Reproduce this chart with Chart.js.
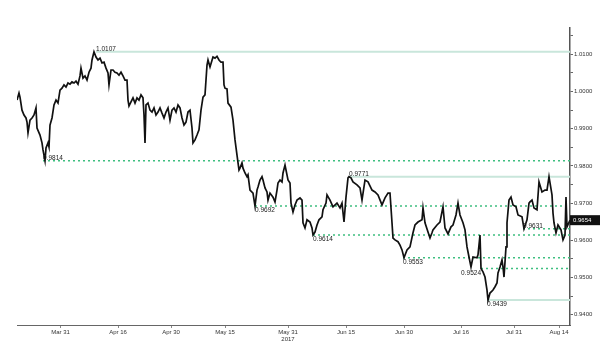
<!DOCTYPE html>
<html>
<head>
<meta charset="utf-8">
<title>Price chart 2017</title>
<script src="https://cdn.jsdelivr.net/npm/chart.js@4/dist/chart.umd.min.js"></script>
<style>
  html, body { margin: 0; padding: 0; background: #fff; }
  #wrap { width: 600px; height: 353px; }
</style>
</head>
<body>
<div id="wrap"><canvas id="priceChart" width="600" height="353"></canvas></div>
<script>
// ── Data ────────────────────────────────────────────────────────
// session index (time) and closing price
const times = [0,2,3,5,7,9,10,11,13,15,17,19,20,23,25,26,28,29,31,32,33,35,37,39,41,43,45,47,49,51,53,55,57,59,61,63,64,66,68,70,72,74,75,77,79,81,83,85,87,89,91,92,94,96,98,100,102,104,106,108,110,111,112,114,116,118,120,122,124,126,127,128,129,131,133,135,137,139,141,143,145,147,149,151,153,155,157,159,161,163,165,167,169,171,173,175,176,178,180,182,184,186,188,190,191,193,196,198,200,202,204,206,207,208,210,211,214,216,218,220,222,223,225,226,228,230,231,233,236,238,240,241,243,245,246,248,250,251,253,256,258,260,261,263,265,266,268,271,273,274,276,278,280,283,285,286,288,290,293,295,296,298,300,302,305,306,309,310,313,316,320,323,325,327,329,331,332,334,336,340,343,345,348,351,355,358,361,365,368,371,373,375,376,378,381,383,385,387,390,393,396,398,401,405,406,408,411,413,415,416,420,423,426,428,431,434,436,439,441,443,446,448,450,452,454,456,460,461,463,464,466,468,470,471,473,476,478,480,481,483,485,486,487,489,490,492,494,496,499,501,505,507,510,512,513,515,517,520,522,525,528,530,532,535,536,537,539,541,544,546,548,549,550,553];

const prices = [0.9977,0.9996,0.9985,0.9950,0.9937,0.9929,0.9918,0.9889,0.9923,0.9929,0.9937,0.9956,0.9902,0.9883,0.9862,0.9843,0.9814,0.9848,0.9862,0.9851,0.9910,0.9929,0.9964,0.9977,0.9969,1.0004,1.0009,1.0018,1.0012,1.0023,1.0020,1.0026,1.0023,1.0028,1.0020,1.0042,1.0063,1.0036,1.0042,1.0031,1.0052,1.0063,1.0085,1.0107,1.0093,1.0085,1.0090,1.0077,1.0079,1.0063,1.0050,1.0018,1.0058,1.0058,1.0052,1.0050,1.0044,1.0052,1.0042,1.0031,1.0031,0.9977,0.9961,0.9972,0.9983,0.9969,0.9983,0.9977,0.9991,0.9983,0.9937,0.9862,0.9964,0.9969,0.9950,0.9945,0.9956,0.9937,0.9945,0.9956,0.9942,0.9929,0.9945,0.9956,0.9923,0.9950,0.9956,0.9945,0.9964,0.9956,0.9929,0.9910,0.9918,0.9945,0.9950,0.9902,0.9862,0.9870,0.9883,0.9897,0.9950,0.9985,0.9991,1.0071,1.0085,1.0066,1.0093,1.0090,1.0095,1.0085,1.0079,1.0079,1.0018,1.0009,1.0007,0.9969,0.9958,0.9923,0.9870,0.9829,0.9789,0.9794,0.9808,0.9794,0.9781,0.9771,0.9776,0.9735,0.9727,0.9692,0.9735,0.9743,0.9762,0.9771,0.9762,0.9741,0.9730,0.9708,0.9727,0.9716,0.9703,0.9735,0.9754,0.9762,0.9757,0.9781,0.9802,0.9762,0.9754,0.9700,0.9676,0.9695,0.9708,0.9714,0.9708,0.9647,0.9633,0.9655,0.9649,0.9633,0.9614,0.9622,0.9641,0.9655,0.9663,0.9682,0.9700,0.9722,0.9708,0.9690,0.9700,0.9687,0.9700,0.9649,0.9716,0.9768,0.9771,0.9768,0.9757,0.9749,0.9741,0.9708,0.9762,0.9757,0.9735,0.9730,0.9722,0.9695,0.9714,0.9727,0.9727,0.9647,0.9606,0.9601,0.9596,0.9587,0.9574,0.9553,0.9574,0.9582,0.9620,0.9641,0.9649,0.9655,0.9687,0.9647,0.9622,0.9606,0.9620,0.9628,0.9641,0.9649,0.9690,0.9633,0.9617,0.9636,0.9641,0.9668,0.9700,0.9668,0.9647,0.9628,0.9582,0.9555,0.9528,0.9555,0.9553,0.9561,0.9614,0.9524,0.9515,0.9501,0.9466,0.9439,0.9458,0.9466,0.9475,0.9485,0.9512,0.9528,0.9547,0.9528,0.9501,0.9582,0.9647,0.9708,0.9716,0.9695,0.9690,0.9668,0.9663,0.9631,0.9655,0.9700,0.9703,0.9708,0.9687,0.9682,0.9757,0.9730,0.9735,0.9735,0.9771,0.9722,0.9673,0.9647,0.9620,0.9641,0.9628,0.9601,0.9614,0.9716,0.9636,0.9654];

// marked highs / lows and the session where each level line begins
const levels    = [1.0107, 0.9814, 0.9771, 0.9692, 0.9614, 0.9553, 0.9524, 0.9439, 0.9631];
const levelFrom = [79, 26, 332, 238, 296, 386, 464, 470, 506];

// x axis labels
const tickPos    = [43.5, 101, 154, 208, 271, 329, 387, 444, 497, 542];
const tickLabels = ['Mar 31', 'Apr 16', 'Apr 30', 'May 15', ['May 31', '2017'], 'Jun 15', 'Jun 30', 'Jul 16', 'Jul 31', 'Aug 14'];

// y axis ticks (labels only on whole hundredths)
const yTicks = [0.940, 0.945, 0.950, 0.955, 0.960, 0.965, 0.970, 0.975, 0.980, 0.985, 0.990, 0.995, 1.000, 1.005, 1.010, 1.015];

// ── Styles ──────────────────────────────────────────────────────
const levelKind = ['solid', 'dotted', 'solid', 'dotted', 'dotted', 'dotted', 'dotted', 'solid', 'dotted'];
const labelSide = ['above', 'above', 'above', 'below', 'below', 'below', 'left', 'below', 'above'];
const FONT = '"Liberation Sans", Arial, sans-serif';

const T_END = times[times.length - 1];

const priceSet = {
    label: 'Price',
    data: times.map((t, i) => ({ x: t, y: prices[i] })),
    borderColor: '#111',
    borderWidth: 1.7,
    pointRadius: 0,
    tension: 0,
};

const levelSets = levels.map((lv, i) => ({
    label: 'L' + lv,
    data: [{ x: levelFrom[i], y: lv }, { x: T_END, y: lv }],
    borderColor: levelKind[i] === 'solid' ? '#c9e6db' : '#3fbf80',
    borderWidth: levelKind[i] === 'solid' ? 2 : 1.4,
    borderDash: levelKind[i] === 'solid' ? [] : [2, 3],
    pointRadius: 0,
}));

// ── Level labels + last price tag ───────────────────────────────
const levelLabels = {
    id: 'levelLabels',
    afterDatasetsDraw(chart) {
        const { ctx, scales: { x, y } } = chart;
        ctx.save();
        ctx.font = '6.5px ' + FONT;
        ctx.fillStyle = '#222';
        levels.forEach((lv, i) => {
            const px = x.getPixelForValue(levelFrom[i]);
            const py = y.getPixelForValue(lv);
            const txt = lv.toFixed(4);
            if (labelSide[i] === 'above') {
                ctx.textAlign = 'left';
                ctx.textBaseline = 'bottom';
                ctx.fillText(txt, px, py + 1);
            } else if (labelSide[i] === 'below') {
                ctx.textAlign = 'left';
                ctx.textBaseline = 'top';
                ctx.fillText(txt, px, py + 1);
            } else {
                ctx.textAlign = 'right';
                ctx.textBaseline = 'top';
                ctx.fillText(txt, px, py + 1);
            }
        });

        // last price box on the axis
        const last = prices[prices.length - 1];
        const ly = y.getPixelForValue(last);
        const lx = chart.chartArea.right;
        ctx.fillStyle = '#111';
        ctx.fillRect(lx, ly - 5, 30, 10);
        ctx.fillStyle = '#fff';
        ctx.font = '6px ' + FONT;
        ctx.textAlign = 'left';
        ctx.textBaseline = 'middle';
        ctx.fillText(last.toFixed(4), lx + 3, ly + 0.5);
        ctx.restore();
    },
};

new Chart(document.getElementById('priceChart'), {
    type: 'line',
    data: { datasets: [priceSet, ...levelSets] },
    options: {
        responsive: false,
        animation: false,
        devicePixelRatio: 1,
        layout: { padding: { left: 17, top: 28, right: 0, bottom: 0 } },
        plugins: { legend: { display: false }, tooltip: { enabled: false } },
        scales: {
            x: {
                type: 'linear',
                min: 0,
                max: T_END,
                afterBuildTicks: (scale) => { scale.ticks = tickPos.map(v => ({ value: v })); },
                afterFit: (scale) => { scale.height = 28; },
                ticks: {
                    autoSkip: false,
                    maxRotation: 0,
                    padding: 1,
                    color: '#333',
                    font: { size: 6, family: FONT },
                    callback: (v, i) => tickLabels[i],
                },
                grid: { drawOnChartArea: false, tickLength: 3, color: '#888' },
                border: { color: '#666', width: 1 },
            },
            y: {
                position: 'right',
                min: 0.9372,
                max: 1.0171,
                afterBuildTicks: (scale) => { scale.ticks = yTicks.map(v => ({ value: v })); },
                afterFit: (scale) => { scale.width = 30; },
                ticks: {
                    padding: 1,
                    color: '#333',
                    font: { size: 6, family: FONT },
                    callback: (v) => (Math.round(v * 1000) % 10 === 0 ? v.toFixed(4) : ''),
                },
                grid: { drawOnChartArea: false, tickLength: 3, color: '#666' },
                border: { color: '#555', width: 1.5 },
            },
        },
    },
    plugins: [levelLabels],
});
</script>
</body>
</html>
